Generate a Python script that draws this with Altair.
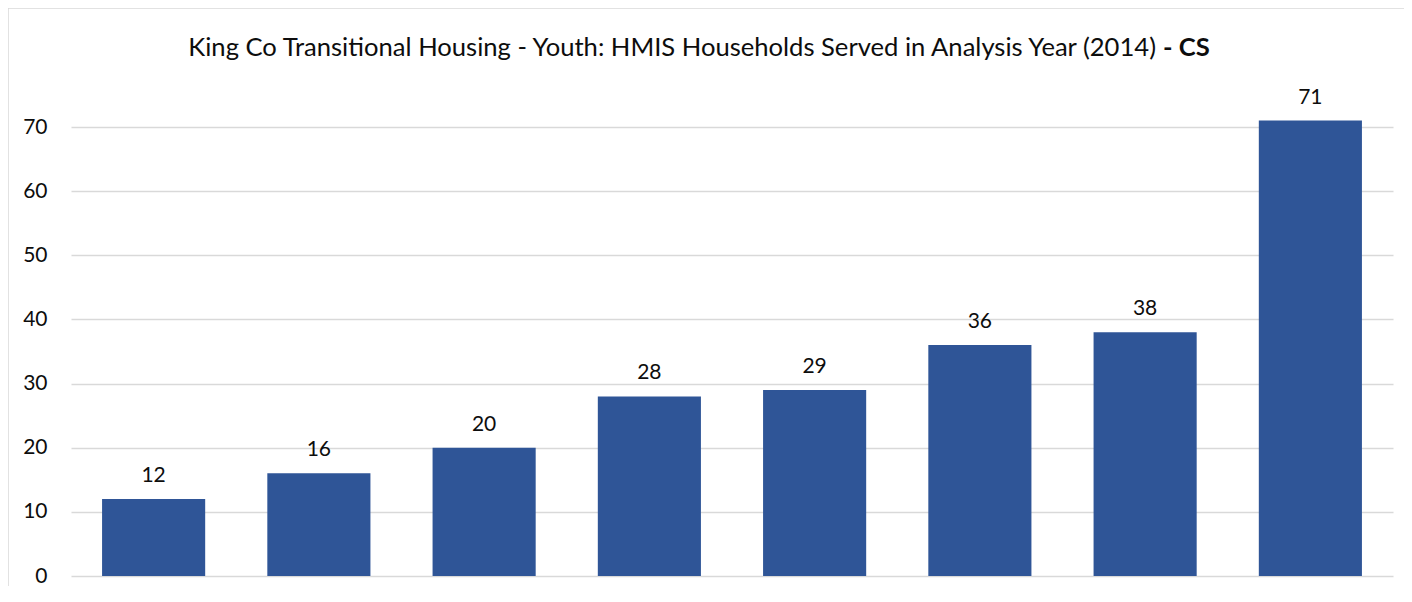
import altair as alt
import pandas as pd

categories = ["P1", "P2", "P3", "P4", "P5", "P6", "P7", "P8"]
values = [12, 16, 20, 28, 29, 36, 38, 71]
title_main = "King Co Transitional Housing - Youth: HMIS Households Served in Analysis Year (2014)"
title_bold = "- CS"

df = pd.DataFrame({"cat": categories, "val": values})
FONT = "Lato"
TXT = "#0d0d0d"

base = alt.Chart(df)

bars = base.mark_bar(color="#2F5597").encode(
    x=alt.X("cat:N", sort=categories, axis=None,
            scale=alt.Scale(paddingInner=0.376, paddingOuter=0.188)),
    y=alt.Y("val:Q", scale=alt.Scale(domain=[0, 70], nice=False),
            axis=alt.Axis(values=[0, 10, 20, 30, 40, 50, 60, 70], title=None,
                          grid=True, gridColor="#D9D9D9", gridWidth=1.3,
                          domain=False, ticks=False, labelPadding=24,
                          labelFont=FONT, labelFontSize=21, labelColor=TXT)),
)

labels = base.mark_text(font=FONT, fontSize=21, color=TXT, dy=-17,
                        baseline="alphabetic").encode(
    x=alt.X("cat:N", sort=categories),
    y="val:Q",
    text="val:Q",
)

tdf = pd.DataFrame({"t": [title_main]})
t1 = alt.Chart(tdf).mark_text(font=FONT, fontSize=25.6, color=TXT, align="right",
                              baseline="alphabetic").encode(
    x=alt.value(1085), y=alt.value(-71), text="t:N")
bdf = pd.DataFrame({"t": [title_bold]})
t2 = alt.Chart(bdf).mark_text(font=FONT, fontSize=25.6, fontWeight="bold", color=TXT,
                              align="left", baseline="alphabetic").encode(
    x=alt.value(1092), y=alt.value(-71), text="t:N")

border = alt.Chart(tdf).mark_rect(fill=None, stroke="#D9D9D9", strokeWidth=1.5).encode(
    x=alt.value(-63), y=alt.value(-119), x2=alt.value(1400), y2=alt.value(600))

chart = alt.layer(border, bars, labels, t1, t2).properties(
    width=1322, height=449,
    padding={"left": 63, "top": 119, "right": 11, "bottom": 10},
    autosize=alt.AutoSizeParams(type="none"),
).configure_view(stroke=None)

chart.save("out.html", embed_options={"renderer": "svg", "actions": False})
